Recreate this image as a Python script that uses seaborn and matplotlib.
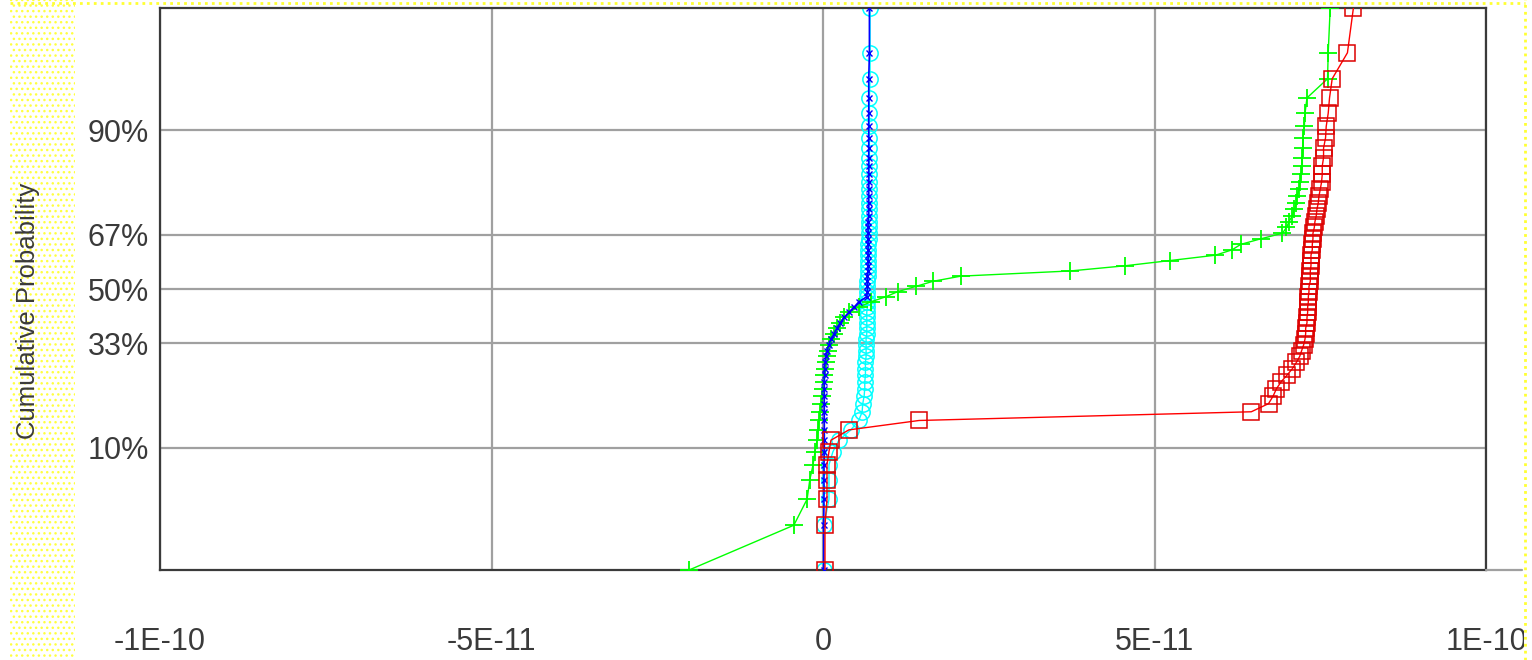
import numpy as np
import pandas as pd
import matplotlib
matplotlib.use("Agg")
import matplotlib.pyplot as plt
from matplotlib.patches import Rectangle
from matplotlib.lines import Line2D
import seaborn as sns
from statistics import NormalDist

# ---------------- data (x values in units of 1e-12, sorted per series) ----------------
X_UNIT = 1e-12

red_vals = [0.3, 0.3, 0.6, 0.6, 0.6, 0.9, 1.2, 3.9, 14.5, 64.6,
            67.2, 67.9, 68.4, 69.1, 70.0, 70.8, 71.4, 71.9, 72.2, 72.5,
            72.7, 72.8, 72.8, 73.0, 73.0, 73.1, 73.1, 73.2, 73.2, 73.3,
            73.3, 73.5, 73.5, 73.5, 73.6, 73.6, 73.6, 73.8, 73.8, 73.9,
            73.9, 74.1, 74.2, 74.4, 74.5, 74.7, 74.8, 75.0, 75.2, 75.3,
            75.3, 75.5, 75.5, 75.8, 75.9, 76.2, 76.4, 76.8, 79.1, 80.0]

green_vals = [-20.2, -4.4, -2.4, -2.0, -1.5, -1.2, -0.9, -0.75, -0.6, -0.45,
              -0.3, -0.15, 0.0, 0.15, 0.15, 0.3, 0.45, 0.6, 0.75, 0.9,
              1.2, 1.7, 2.1, 2.6, 3.2, 3.9, 5.4, 7.2, 9.5, 11.3,
              14.0, 16.6, 20.8, 37.3, 45.6, 52.4, 59.2, 61.7, 63.0, 66.0,
              69.3, 69.9, 70.3, 70.8, 71.1, 71.4, 71.5, 71.8, 72.0, 72.1,
              72.3, 72.3, 72.4, 72.4, 72.6, 72.7, 73.0, 76.1, 76.2, 76.5]

blue_vals = [0.1, 0.1, 0.15, 0.15, 0.15, 0.2, 0.2, 0.2, 0.2, 0.2,
             0.2, 0.2, 0.2, 0.2, 0.25, 0.25, 0.3, 0.45, 0.6, 0.9,
             1.2, 1.7, 2.1, 2.6, 3.2, 3.9, 4.7, 5.4, 6.6, 6.7,
             6.7, 6.7, 6.7, 6.8, 6.8, 6.8, 6.8, 6.8, 6.8, 6.8,
             6.8, 6.8, 6.8, 6.9, 6.9, 6.9, 6.9, 6.9, 6.9, 6.9,
             6.9, 6.9, 6.9, 6.9, 6.9, 6.9, 6.9, 6.9, 7.0, 7.0]

cyan_vals = [0.15, 0.15, 0.9, 0.9, 0.9, 1.5, 2.4, 4.2, 5.4, 5.9,
             6.0, 6.2, 6.3, 6.3, 6.4, 6.4, 6.4, 6.5, 6.5, 6.5,
             6.5, 6.6, 6.6, 6.6, 6.6, 6.6, 6.7, 6.7, 6.7, 6.7,
             6.7, 6.7, 6.8, 6.8, 6.8, 6.8, 6.8, 6.8, 6.8, 6.9,
             6.9, 6.9, 6.9, 6.9, 6.9, 6.9, 6.9, 6.9, 7.0, 7.0,
             7.0, 7.0, 7.0, 7.0, 7.0, 7.0, 7.0, 7.1, 7.1, 7.1]

y_ticks = [0.10, 0.33, 0.50, 0.67, 0.90]
y_ticklabels = ["10%", "33%", "50%", "67%", "90%"]
x_ticks = [-1e-10, -5e-11, 0.0, 5e-11, 1e-10]
x_ticklabels = ["-1E-10", "-5E-11", "0", "5E-11", "1E-10"]
y_label = "Cumulative Probability"

# ---------------- probability (normal) scale ----------------
_nd = NormalDist()
_ppf = np.vectorize(_nd.inv_cdf, otypes=[float])
_cdf = np.vectorize(_nd.cdf, otypes=[float])


def prob_forward(p):
    p = np.clip(np.asarray(p, dtype=float), 1e-9, 1 - 1e-9)
    return _ppf(p)


def prob_inverse(z):
    return _cdf(np.asarray(z, dtype=float))


N = len(red_vals)
ranks = np.arange(1, N + 1)
plot_pos = (ranks - 0.3) / (N + 0.4)   # median-rank plotting positions

sns.set_style("white")
plt.rcParams["font.family"] = ["Liberation Sans", "DejaVu Sans"]

W, H = 1532, 660
fig = plt.figure(figsize=(W / 100, H / 100), dpi=100)
fig.patch.set_facecolor("white")
L, R, T, B = 160, 1486, 8, 570
ax = fig.add_axes([L / W, 1 - B / H, (R - L) / W, (B - T) / H])

styles = [
    ("cyan", cyan_vals, dict(color="#00ffff", marker="o", markersize=11,
                             markerfacecolor="none", markeredgecolor="#00ffff",
                             markeredgewidth=1.1, linewidth=1.0), 2),
    ("green", green_vals, dict(color="#00ff00", marker="+", markersize=12.5,
                               markeredgecolor="#00ff00", markeredgewidth=1.3,
                               linewidth=1.0), 3),
    ("blue", blue_vals, dict(color="#0000ff", marker="x", markersize=4,
                             markeredgecolor="#0000ff", markeredgewidth=1.0,
                             linewidth=1.2), 4),
    ("red", red_vals, dict(color="#ff0000", marker="s", markersize=11.5,
                           markerfacecolor="none", markeredgecolor="#dd0000",
                           markeredgewidth=1.1, linewidth=1.0), 5),
]

for name, vals, kw, z in styles:
    df = pd.DataFrame({"x": np.asarray(vals) * X_UNIT, "p": plot_pos})
    sns.lineplot(data=df, x="x", y="p", ax=ax, estimator=None, sort=False,
                 zorder=z, **kw)

ax.set_yscale("function", functions=(prob_forward, prob_inverse))
ax.set_ylim(plot_pos[0], plot_pos[-1])
ax.set_xlim(x_ticks[0], x_ticks[-1])

ax.set_yticks(y_ticks)
ax.set_yticklabels(y_ticklabels)
ax.set_xticks(x_ticks)
ax.set_xticklabels(x_ticklabels)
ax.yaxis.set_minor_locator(matplotlib.ticker.NullLocator())
ax.xaxis.set_minor_locator(matplotlib.ticker.NullLocator())

ax.tick_params(axis="y", length=0, pad=8, labelsize=22, labelcolor="#3a3a3a")
ax.tick_params(axis="x", length=0, pad=41, labelsize=22, labelcolor="#3a3a3a")

ax.grid(True, color="#a0a0a0", linewidth=1.6, zorder=0)
ax.set_axisbelow(True)
for s in ax.spines.values():
    s.set_visible(True)
    s.set_color("#3a3a3a")
    s.set_linewidth(1.6)

ax.set_xlabel("")
ax.set_ylabel(y_label, fontsize=18.5, color="#3a3a3a")
ax.yaxis.set_label_coords((40 - L) / (R - L), (B - 311) / (B - T))

# ---------------- frame decorations (dotted yellow border) ----------------
plt.rcParams["hatch.linewidth"] = 1.0
fig.patches.append(Rectangle((10 / W, 0), 65 / W, 1, transform=fig.transFigure,
                             facecolor="white", edgecolor="#ffff40", hatch="...",
                             linewidth=0, zorder=-1))
fig.lines.append(Line2D([10 / W, 1525 / W], [1 - 2.5 / H] * 2, transform=fig.transFigure,
                        color="#ffff33", linestyle=(0, (1, 1.5)), linewidth=2.0, zorder=6))
fig.patches.append(Rectangle((1524 / W, 0), 8 / W, 1, transform=fig.transFigure,
                             facecolor="white", linewidth=0, zorder=5))
fig.lines.append(Line2D([1525 / W] * 2, [0, 1], transform=fig.transFigure,
                        color="#ffff33", linestyle=(0, (1, 1.5)), linewidth=2.0, zorder=6))
fig.lines.append(Line2D([R / W, 1522 / W], [1 - B / H] * 2, transform=fig.transFigure,
                        color="#a0a0a0", linewidth=1.6, zorder=4))

fig.savefig("out.png", dpi=100)
